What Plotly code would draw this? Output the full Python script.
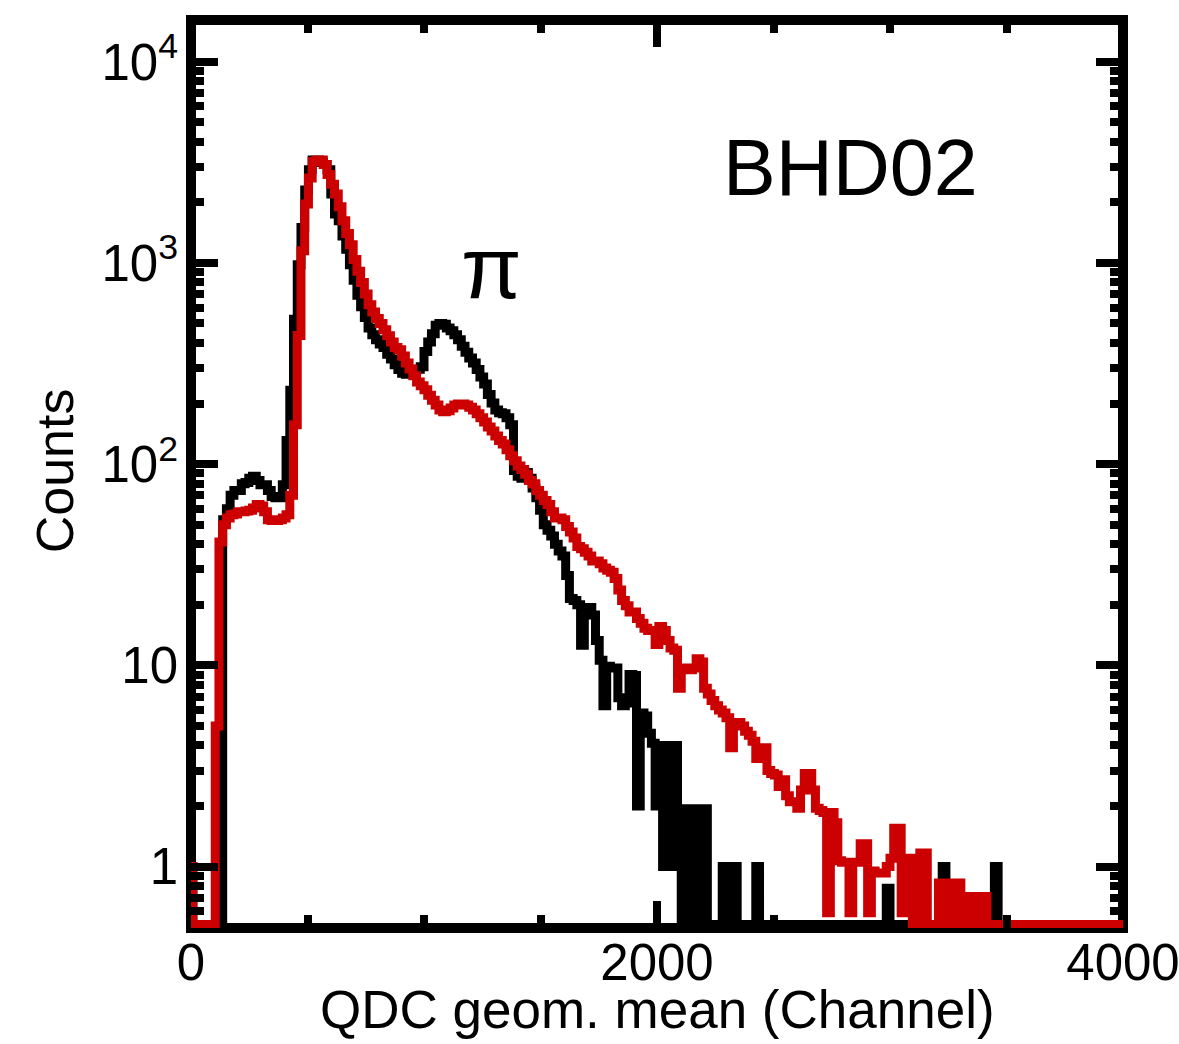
import plotly.graph_objects as go

# ---------------- data ----------------
BIN_WIDTH = 16  # QDC channels per histogram bin

# black histogram (counts per bin), bins 0..250
counts_black = [
    1,
    0, 0, 0, 0, 0, 0, 0, 0,
    53, 60,
    70, 74, 74, 80, 81, 85, 87, 83, 79, 79,
    74, 69, 68, 68, 79, 131, 233, 525, 980, 1500,
    2300, 2900, 3250, 3250, 3150, 3080, 2900, 2200, 1750, 1620,
    1360, 1170, 980, 820, 690, 605, 535, 475, 440, 415,
    395, 380, 352, 333, 312, 295, 283, 280, 286, 293,
    296, 305, 363, 405, 445, 490, 500, 495, 475, 460,
    440, 415, 385, 360, 337, 318, 295, 271, 250, 222,
    201, 186, 180, 178, 170, 157, 93, 87, 85, 91,
    85, 76, 68, 59, 50, 47, 44, 40, 37, 35,
    28, 21.5, 21, 20, 12.6, 19.4, 19.4, 17.8, 13.3, 10.6,
    6.3, 9.9, 9.7, 9.7, 6.9, 6.3, 6.5, 9.0, 8.9, 2.0,
    5.8, 5.6, 4.6, 4.1, 2.0, 4.0, 1.0, 4.0, 1.0, 4.0,
    1.0, 0, 1.94, 0, 1.94, 1.94, 0, 1.94, 0, 0,
    0, 0, 1, 0, 0, 1, 0, 0, 0, 0,
    0, 1, 0, 0, 0, 0, 0, 0, 0, 0,
    0, 0, 0, 0, 0, 0, 0, 0, 0, 0,
    0, 0, 0, 0, 0, 0, 0, 0, 0, 0,
    0, 0, 0, 0, 0, 0, 0.78, 0, 0, 0,
    0, 0, 0, 0, 0, 0, 0, 0, 0, 0,
    0, 1, 0, 0, 0, 0, 0, 0, 0, 0,
    0, 0, 0, 0, 0, 1, 0, 0, 0, 0,
    0, 0, 0, 0, 0, 0, 0, 0, 0, 0,
    0, 0, 0, 0, 0, 0, 0, 0, 0, 0,
    0, 0, 0, 0, 0, 0, 0, 0, 0, 0,
]

# red histogram (counts per bin), bins 0..250
counts_red = [
    1,
    0, 0, 0, 0, 0, 0,
    5.0, 41, 50, 54,
    56, 56.5, 58, 58, 58.5, 59, 60.5, 63, 62, 58,
    53, 52.5, 52.5, 53, 54, 56, 70, 157, 436, 1150,
    1960, 2640, 3190, 3250, 3250, 3080, 2750, 2460, 2200, 1900,
    1620, 1400, 1230, 1040, 910, 800, 700, 620, 570, 530,
    500, 465, 435, 405, 380, 370, 345, 318, 297, 275,
    256, 245, 234, 220, 208, 197, 186, 182, 184, 190,
    197, 199, 199, 197, 192, 186, 178, 170, 162, 153,
    146, 138, 131, 126, 118, 110, 104, 98, 94, 89,
    83, 80, 74, 70, 66, 63, 58, 54, 54, 53,
    49, 46, 43, 39, 38, 36.5, 35, 33, 33, 32,
    30.5, 29.7, 29, 27, 23.7, 21, 19.8, 18.4, 18.4, 17.1,
    16.2, 15.3, 14.9, 14.9, 12.7, 15.6, 14.9, 13.3, 12.2, 11.9,
    7.7, 9.7, 9.7, 9.5, 9.7, 10.8, 10.4, 7.7, 7.2, 6.7,
    6.3, 6.0, 5.8, 5.5, 3.9, 5.2, 5.2, 5.0, 4.7, 4.5,
    4.2, 3.45, 3.8, 3.9, 3.0, 2.9, 2.85, 2.5, 2.7, 2.25,
    2.1, 2.1, 1.95, 2.4, 2.9, 2.9, 2.4, 1.95, 1.9, 1.86,
    0.59, 1.86, 1.65, 1.07, 1.05, 1.05, 0.59, 1.05, 1.05, 1.3,
    1.3, 0.59, 0.95, 0.93, 0.93, 0.93, 1.0, 1.1, 1.55, 1.55,
    0.59, 1.1, 1.1, 0, 0, 1.17, 1.17, 0, 0, 0,
    0.83, 0, 0.83, 0.83, 0, 0.83, 0.71, 0, 0.71, 0.71,
    0, 0.71, 0.71, 0, 0, 0, 0, 0, 0, 0,
    0, 0, 0, 0, 0, 0, 0, 0, 0, 0,
    0, 0, 0, 0, 0, 0, 0, 0, 0, 0,
    0, 0, 0, 0, 0, 0, 0, 0, 0, 0,
]

X_TICK_VALUES = [0, 2000, 4000]
X_TICK_TEXT = ["0", "2000", "4000"]
Y_TICK_VALUES = [1, 10, 100, 1000, 10000]
Y_TICK_TEXT = ["1", "10", "10<sup>2</sup>", "10<sup>3</sup>", "10<sup>4</sup>"]

DETECTOR_LABEL = "BHD02"
PEAK_LABEL = "π"
X_TITLE = "QDC geom. mean (Channel)"
Y_TITLE = "Counts"

# ---------------- styling ----------------
FONT = "Liberation Sans, Arial, Helvetica, sans-serif"
RED = "#cc0000"
Y_FLOOR = 0.515          # empty bins are drawn on the bottom edge, as in the original
Y_RANGE_LOG = [-0.305, 4.207]
LINE_W = 9

def for_log(vals):
    return [v if v > 0 else Y_FLOOR for v in vals]

x_black = [i * BIN_WIDTH for i in range(len(counts_black))]
x_red = [i * BIN_WIDTH for i in range(len(counts_red))]

minor_y = [m * 10 ** e for e in range(-1, 5) for m in range(2, 10)
           if 0.5 < m * 10 ** e < 16000 and m * 10 ** e not in Y_TICK_VALUES]

fig = go.Figure()
fig.add_trace(go.Scatter(x=x_black, y=for_log(counts_black), mode="lines",
                         line=dict(color="black", width=LINE_W, shape="hvh"),
                         showlegend=False, hoverinfo="skip"))
fig.add_trace(go.Scatter(x=x_red, y=for_log(counts_red), mode="lines",
                         line=dict(color=RED, width=LINE_W, shape="hvh"),
                         showlegend=False, hoverinfo="skip"))

tick_common = dict(ticks="inside", ticklen=27, tickwidth=8, tickcolor="black",
                   showgrid=False, zeroline=False, showline=False, mirror="ticks",
                   ticklabeloverflow="allow", automargin=False,
                   tickfont=dict(family=FONT, size=51, color="black"))

fig.update_xaxes(range=[0, 4000], tickmode="array", tickvals=X_TICK_VALUES,
                 ticktext=X_TICK_TEXT,
                 minor=dict(ticks="inside", ticklen=13, tickwidth=8, tickcolor="black",
                            tick0=0, dtick=500, showgrid=False),
                 ticklabelstandoff=0,
                 **tick_common)
fig.update_yaxes(type="log", range=Y_RANGE_LOG, tickmode="array",
                 tickvals=Y_TICK_VALUES, ticktext=Y_TICK_TEXT,
                 minor=dict(ticks="inside", ticklen=13, tickwidth=8, tickcolor="black",
                            tickmode="array", tickvals=minor_y, showgrid=False),
                 ticklabelstandoff=12,
                 **tick_common)

fig.add_shape(type="rect", xref="paper", yref="paper", x0=0, x1=1, y0=0, y1=1,
              line=dict(color="black", width=10), fillcolor="rgba(0,0,0,0)",
              layer="below")

fig.add_annotation(text=DETECTOR_LABEL, xref="paper", yref="paper", x=0.708, y=0.838,
                   xanchor="center", yanchor="middle", showarrow=False,
                   font=dict(family=FONT, size=79, color="black"))
fig.add_annotation(text=PEAK_LABEL, xref="paper", yref="paper", x=0.322, y=0.727,
                   xanchor="center", yanchor="middle", showarrow=False,
                   font=dict(family=FONT, size=88, color="black"))
fig.add_annotation(text=X_TITLE, xref="paper", yref="paper", x=0.5, y=-0.09,
                   xanchor="center", yanchor="middle", showarrow=False,
                   font=dict(family=FONT, size=53, color="black"))
fig.add_annotation(text=Y_TITLE, xref="paper", yref="paper", x=-0.146, y=0.504,
                   xanchor="center", yanchor="middle", showarrow=False, textangle=-90,
                   font=dict(family=FONT, size=52, color="black"))

fig.update_layout(template="none", width=1179, height=1044,
                  margin=dict(l=191, r=56, t=20, b=116, pad=0, autoexpand=False),
                  paper_bgcolor="white", plot_bgcolor="white",
                  showlegend=False)

fig.write_html("out.html", config={"displayModeBar": False},
               post_script="document.body.style.margin='0px';document.body.style.padding='0px';")
